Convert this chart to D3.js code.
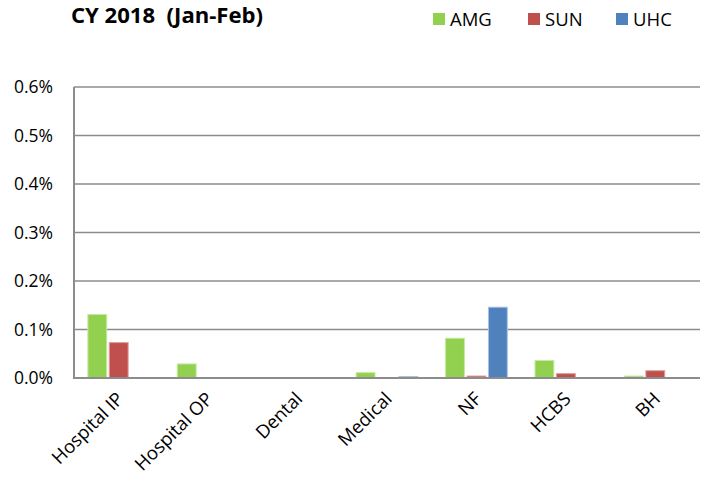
<!DOCTYPE html>
<html>
<head>
<meta charset="utf-8">
<script src="https://cdn.jsdelivr.net/npm/d3@7"></script>
<style>
  body { margin: 0; background: #fff; }
  text { font-family: "Open Sans", "DejaVu Sans", sans-serif; }
</style>
</head>
<body>
<svg id="chart" width="702" height="479"></svg>
<script>
const categories = ["Hospital IP", "Hospital OP", "Dental", "Medical", "NF", "HCBS", "BH"];
const seriesNames = ["AMG", "SUN", "UHC"];
const amg = [0.131, 0.029, 0, 0.011, 0.082, 0.036, 0.004];
const sun = [0.073, 0, 0, 0, 0.004, 0.009, 0.015];
const uhc = [0, 0, 0, 0.003, 0.146, 0, 0];
const yTicks = [0, 0.1, 0.2, 0.3, 0.4, 0.5, 0.6];
const colors = ["#92D050", "#C0504D", "#4F81BD"];
const borders = ["#c4ea9c", "#e09a98", "#a9c2e2"];

const margin = { top: 87, right: 2, bottom: 101, left: 74 };
const width = 702, height = 479;
const svg = d3.select("#chart");

const x = d3.scaleBand()
  .domain(categories)
  .range([margin.left, width - margin.right]);

const xs = d3.scaleBand()
  .domain(seriesNames)
  .range([x.bandwidth() * 0.155, x.bandwidth() * 0.845])
  .paddingInner(0.12);

const y = d3.scaleLinear()
  .domain([0, 0.6])
  .range([height - margin.bottom, margin.top]);

// gridlines
svg.append("g")
  .selectAll("line")
  .data(yTicks.slice(1))
  .enter()
  .append("line")
  .attr("x1", margin.left)
  .attr("x2", width - margin.right)
  .attr("y1", d => y(d))
  .attr("y2", d => y(d))
  .attr("stroke", "#8c8c8c")
  .attr("stroke-width", 1.5);

// y labels
svg.append("g")
  .selectAll("text")
  .data(yTicks)
  .enter()
  .append("text")
  .attr("x", 53)
  .attr("y", d => y(d))
  .attr("dy", "0.36em")
  .attr("text-anchor", "end")
  .attr("font-size", 17.5)
  .attr("fill", "#000")
  .text(d => d.toFixed(1) + "%");

// bars
const series = [amg, sun, uhc];
series.forEach((vals, si) => {
  svg.append("g")
    .selectAll("rect")
    .data(vals)
    .enter()
    .append("rect")
    .attr("x", (d, i) => x(categories[i]) + xs(seriesNames[si]))
    .attr("y", d => y(d))
    .attr("width", xs.bandwidth())
    .attr("height", d => y(0) - y(d))
    .attr("fill", colors[si])
    .attr("stroke", d => d > 0 ? borders[si] : "none")
    .attr("stroke-width", 1);
});

// axes lines
svg.append("line")
  .attr("x1", margin.left).attr("x2", margin.left)
  .attr("y1", y(0.6)).attr("y2", y(0) + 1)
  .attr("stroke", "#8c8c8c").attr("stroke-width", 2);
svg.append("line")
  .attr("x1", margin.left - 1).attr("x2", width - margin.right)
  .attr("y1", y(0)).attr("y2", y(0))
  .attr("stroke", "#8c8c8c").attr("stroke-width", 2);

// x labels
svg.append("g")
  .selectAll("text")
  .data(categories)
  .enter()
  .append("text")
  .attr("transform", d => `translate(${x(d) + x.bandwidth() / 2 + 6},${y(0) + 22}) rotate(-45)`)
  .attr("text-anchor", "end")
  .attr("font-size", 18.5)
  .attr("fill", "#000")
  .text(d => d);

// title
svg.append("text")
  .attr("x", 71)
  .attr("y", 23)
  .attr("font-size", 21)
  .attr("font-weight", "bold")
  .attr("fill", "#000")
  .attr("textLength", 192)
  .attr("lengthAdjust", "spacingAndGlyphs")
  .style("white-space", "pre")
  .text("CY 2018  (Jan-Feb)");

// legend
const legendX = [433, 528, 616];
const legend = svg.append("g")
  .selectAll("g")
  .data(seriesNames)
  .enter()
  .append("g")
  .attr("transform", (d, i) => `translate(${legendX[i]},0)`);
legend.append("rect")
  .attr("x", 0).attr("y", 13)
  .attr("width", 12).attr("height", 12)
  .attr("fill", (d, i) => colors[i]);
legend.append("text")
  .attr("x", 17).attr("y", 26)
  .attr("font-size", 18.5)
  .attr("fill", "#000")
  .text(d => d);
</script>
</body>
</html>
